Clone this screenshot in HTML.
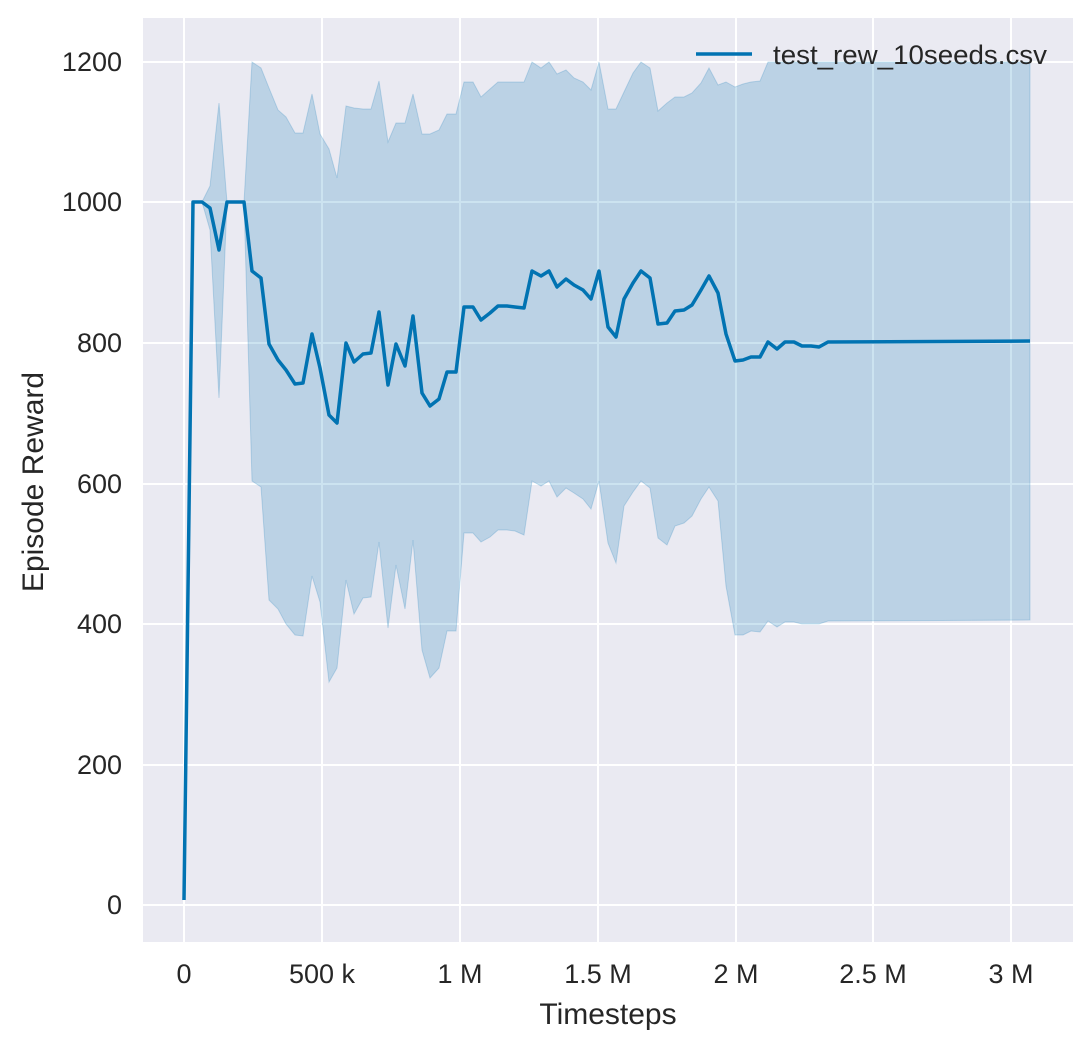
<!DOCTYPE html>
<html><head><meta charset="utf-8"><style>body{margin:0;background:#fff}svg{display:block;font-family:"Liberation Sans",sans-serif}</style></head><body>
<svg width="1092" height="1050" viewBox="0 0 1092 1050">
<rect x="143" y="18" width="930" height="924" fill="#eaeaf2"/>
<g stroke="#fff" stroke-width="2">
<line x1="184" y1="18" x2="184" y2="942"/><line x1="322" y1="18" x2="322" y2="942"/><line x1="460" y1="18" x2="460" y2="942"/><line x1="598" y1="18" x2="598" y2="942"/><line x1="736" y1="18" x2="736" y2="942"/><line x1="873" y1="18" x2="873" y2="942"/><line x1="1011" y1="18" x2="1011" y2="942"/>
<line x1="143" y1="905" x2="1073" y2="905"/><line x1="143" y1="765" x2="1073" y2="765"/><line x1="143" y1="624" x2="1073" y2="624"/><line x1="143" y1="484" x2="1073" y2="484"/><line x1="143" y1="343" x2="1073" y2="343"/><line x1="143" y1="202" x2="1073" y2="202"/><line x1="143" y1="62" x2="1073" y2="62"/>
</g>
<polygon fill="#0173b2" fill-opacity="0.2" stroke="#0173b2" stroke-opacity="0.2" points="184,900 193,202 202,202 210,186 219,103 227,202 236,202 244,202 252,62 261,68 269,88 278,110 286,117 295,133 303,133 312,94 320,134 329,149 337,178 346,106 354,108 363,109 371,109 379,81 388,142 396,123 405,123 413,94 422,134 430,134 439,130 447,114 456,114 464,82 473,82 481,97 490,89 498,82 507,82 515,82 524,82 532,62 541,68 549,62 557,74 566,70 574,78 583,82 591,90 599,62 608,109 616,109 624,92 633,73 641,62 650,68 658,111 667,103 675,97 684,97 692,93 701,83 709,68 718,85 726,82 735,87 743,84 751,82 760,81 768,62 1030,62 1030,620 828,621 819,624 811,624 802,624 794,622 785,622 777,627 768,621 760,632 751,631 743,635 735,635 726,586 718,501 709,487 701,499 692,516 684,523 675,526 667,545 658,538 650,488 641,481 633,492 624,506 616,563 608,543 599,481 591,509 583,499 574,493 566,488 557,497 549,481 541,486 532,481 524,535 515,531 507,530 498,530 490,537 481,542 473,533 464,533 456,631 447,631 439,668 430,678 422,650 413,540 405,609 396,565 388,628 379,542 371,597 363,598 354,614 346,580 337,668 329,682 320,602 312,576 303,636 295,635 286,624 278,609 269,600 261,487 252,481 244,202 227,202 219,398 210,230 202,202 193,202"/>
<polyline fill="none" stroke="#0173b2" stroke-width="3.5" stroke-linejoin="round" points="184,900 193,202 202,202 210,208 219,250 227,202 236,202 244,202 252,271 261,278 269,344 278,360 286,370 295,384 303,383 312,334 320,368 329,415 337,423 346,343 354,362 363,354 371,353 379,312 388,385 396,344 405,366 413,316 422,393 430,406 439,399 447,372 456,372 464,307 473,307 481,320 490,313 498,306 507,306 515,307 524,308 532,271 541,276 549,271 557,287 566,279 574,285 583,290 591,299 599,271 608,327 616,337 624,299 633,283 641,271 650,278 658,324 667,323 675,311 684,310 692,305 701,290 709,276 718,293 726,334 735,361 743,360 751,357 760,357 768,342 777,349 785,342 794,342 802,346 811,346 819,347 828,342 1030,341"/>
<line x1="696" y1="54" x2="752" y2="54" stroke="#0173b2" stroke-width="3.5"/>
<text x="773" y="64" font-size="27" fill="#262626" textLength="274" lengthAdjust="spacingAndGlyphs">test_rew_10seeds.csv</text>
<g font-size="27" fill="#262626" text-anchor="end">
<text x="122" y="914">0</text><text x="122" y="774">200</text><text x="122" y="633">400</text><text x="122" y="493">600</text><text x="122" y="352">800</text><text x="122" y="211">1000</text><text x="122" y="71">1200</text>
</g>
<g font-size="27" fill="#262626" text-anchor="middle">
<text x="184" y="983">0</text><text x="322" y="983">500 k</text><text x="460" y="983">1 M</text><text x="598" y="983">1.5 M</text><text x="736" y="983">2 M</text><text x="873" y="983">2.5 M</text><text x="1011" y="983">3 M</text>
</g>
<text x="608" y="1024" font-size="30" fill="#262626" text-anchor="middle">Timesteps</text>
<text transform="translate(43,482) rotate(-90)" font-size="30" fill="#262626" text-anchor="middle">Episode Reward</text>
</svg>
</body></html>
